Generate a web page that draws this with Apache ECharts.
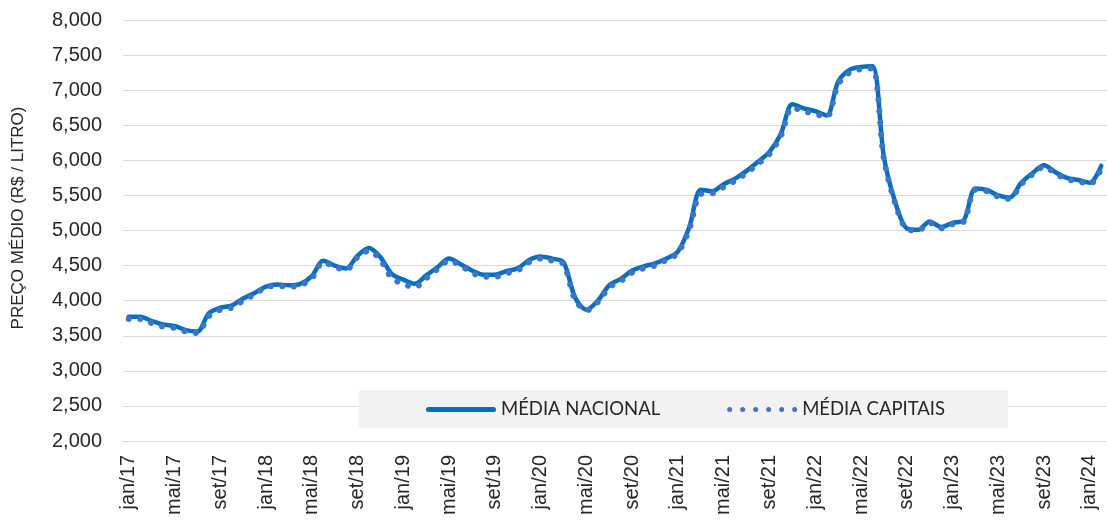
<!DOCTYPE html>
<html>
<head>
<meta charset="utf-8">
<script src="https://cdn.jsdelivr.net/npm/echarts@6/dist/echarts.min.js"></script>
<style>
html,body{margin:0;padding:0;background:#fff;}
#chart{width:1107px;height:523px;}
</style>
</head>
<body>
<div id="chart"></div>
<script>
var monthNames = ['jan','fev','mar','abr','mai','jun','jul','ago','set','out','nov','dez'];
var yearLabels = ['17','18','19','20','21','22','23','24'];
var categories = [];
yearLabels.forEach(function (y) { monthNames.forEach(function (m) { categories.push(m + '/' + y); }); });
categories = categories.slice(0, 86); // jan/17 .. fev/24

var mediaNacional = [
  3.77,3.77,3.71,3.66,3.64,3.58,3.56,3.82,3.90,3.93,4.03,4.11,
  4.20,4.23,4.22,4.24,4.35,4.57,4.50,4.46,4.64,4.75,4.62,4.38,
  4.30,4.24,4.36,4.48,4.60,4.52,4.43,4.37,4.37,4.42,4.46,4.58,
  4.63,4.60,4.55,4.05,3.87,4.00,4.22,4.31,4.43,4.49,4.53,4.60,
  4.70,5.05,5.58,5.56,5.66,5.74,5.85,5.98,6.12,6.38,6.80,6.74,
  6.70,6.64,7.12,7.29,7.33,7.34,6.05,5.40,5.03,5.01,5.13,5.05,
  5.11,5.15,5.60,5.58,5.50,5.47,5.68,5.82,5.93,5.83,5.75,5.72,
  5.68,5.92
];
var mediaCapitais = [
  3.74,3.74,3.68,3.63,3.61,3.56,3.54,3.78,3.87,3.90,4.00,4.09,
  4.19,4.21,4.20,4.22,4.32,4.55,4.48,4.44,4.62,4.71,4.58,4.32,
  4.24,4.19,4.32,4.45,4.57,4.50,4.40,4.34,4.34,4.39,4.43,4.55,
  4.60,4.57,4.52,4.02,3.86,3.98,4.19,4.28,4.40,4.46,4.50,4.58,
  4.68,5.02,5.52,5.53,5.62,5.71,5.82,5.95,6.09,6.35,6.75,6.70,
  6.66,6.62,7.08,7.25,7.30,7.31,6.02,5.38,5.02,5.00,5.11,5.03,
  5.09,5.13,5.58,5.56,5.48,5.45,5.66,5.80,5.91,5.81,5.73,5.70,
  5.66,5.88
];
var yAxisTitle = 'PREÇO MÉDIO (R$ / LITRO)';
var seriesNames = ['MÉDIA NACIONAL', 'MÉDIA CAPITAIS'];

// legend icons
var solidIcon = 'path://M2.5,0 L67.5,0 A2.5,2.5 0 0,1 67.5,5 L2.5,5 A2.5,2.5 0 0,1 2.5,0 Z';
var dotParts = [];
for (var k = 0; k < 6; k++) {
  var cx = 2.5 + k * 13;
  dotParts.push('M' + (cx - 2.5) + ',2.5 A2.5,2.5 0 1,0 ' + (cx + 2.5) + ',2.5 A2.5,2.5 0 1,0 ' + (cx - 2.5) + ',2.5 Z');
}
var dotIcon = 'path://' + dotParts.join(' ');

var chart = echarts.init(document.getElementById('chart'), null, {renderer: 'canvas'});
chart.setOption({
  animation: false,
  backgroundColor: '#ffffff',
  textStyle: {fontFamily: 'Liberation Sans'},
  grid: {left: 123, right: -8, top: 20, bottom: 82, containLabel: false},
  legend: {
    left: 359, top: 390,
    backgroundColor: '#F2F2F2',
    padding: [10, 63, 9, 67],
    itemWidth: 70, itemHeight: 5, itemGap: 67,
    textStyle: {fontFamily: 'Lato', fontSize: 18.5, color: '#262626'},
    data: [
      {name: seriesNames[0], icon: solidIcon},
      {name: seriesNames[1], icon: dotIcon}
    ]
  },
  graphic: [{
    type: 'text', x: 18, y: 218, rotation: Math.PI / 2,
    style: {text: yAxisTitle, fontFamily: 'Liberation Sans', fontSize: 17, fill: '#262626',
            align: 'center', verticalAlign: 'middle'}
  }],
  xAxis: {
    type: 'category', data: categories, boundaryGap: true,
    axisLine: {show: true, lineStyle: {color: '#D9D9D9', width: 1}},
    axisTick: {show: false},
    axisLabel: {interval: 3, rotate: 90, margin: 14, fontSize: 20, color: '#262626', fontFamily: 'Liberation Sans'},
    splitLine: {show: false}
  },
  yAxis: {
    type: 'value', min: 2, max: 8, interval: 0.5,
    axisLine: {show: false}, axisTick: {show: false},
    axisLabel: {margin: 21, fontSize: 20, color: '#262626', fontFamily: 'Liberation Sans',
      formatter: function (v) { return (v * 1000).toLocaleString('en-US'); }},
    splitLine: {lineStyle: {color: '#D9D9D9', width: 1}}
  },
  series: [
    {
      name: seriesNames[0], type: 'line', data: mediaNacional, smooth: 0.3,
      symbol: 'none', showSymbol: false,
      lineStyle: {color: '#0070C0', width: 4.5, cap: 'round', join: 'round'},
      itemStyle: {color: '#0070C0'}, z: 2
    },
    {
      name: seriesNames[1], type: 'line', data: mediaCapitais, smooth: 0.3,
      symbol: 'none', showSymbol: false,
      lineStyle: {color: '#4472C4', width: 6, type: [0.01, 11.5], cap: 'round'},
      itemStyle: {color: '#4472C4'}, z: 3
    }
  ]
});
</script>
</body>
</html>
